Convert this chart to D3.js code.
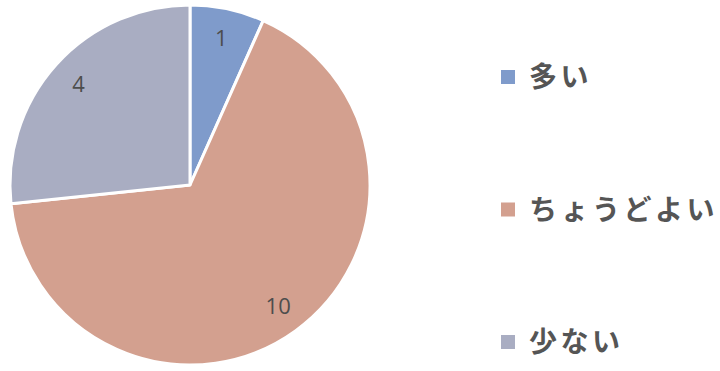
<!DOCTYPE html>
<html lang="ja">
<head>
<meta charset="UTF-8">
<title>Pie</title>
<style>
  html, body { margin: 0; padding: 0; background: #fff; }
  text { font-family: "Noto Sans CJK JP", "Noto Sans", sans-serif; }
</style>
</head>
<body>
<svg id="chart" width="720" height="371"></svg>
<script src="https://cdn.jsdelivr.net/npm/d3@7"></script>
<script>
var categories = ["多い", "ちょうどよい", "少ない"];
var values = [1, 10, 4];
var colors = ["#7f9bcb", "#d3a08f", "#a9adc2"];

var svg = d3.select("#chart");
var cx = 190, cy = 185, radius = 180;

var pie = d3.pie().sort(null).value(function (d) { return d; });
var arc = d3.arc().innerRadius(0).outerRadius(radius);
var labelArc = d3.arc().innerRadius(150).outerRadius(150);

var g = svg.append("g").attr("transform", "translate(" + cx + "," + cy + ")");

var slices = g.selectAll("g.slice")
    .data(pie(values))
    .enter().append("g")
    .attr("class", "slice");

slices.append("path")
    .attr("d", arc)
    .attr("fill", function (d, i) { return colors[i]; })
    .attr("stroke", "#fff")
    .attr("stroke-width", 3)
    .attr("stroke-linejoin", "round");

slices.append("text")
    .attr("transform", function (d) { return "translate(" + labelArc.centroid(d) + ")"; })
    .attr("text-anchor", "middle")
    .attr("dy", "0.35em")
    .style("font-family", "'Open Sans', 'Noto Sans', sans-serif")
    .style("font-size", "22px")
    .style("fill", "#4d4d4d")
    .text(function (d) { return d.data; });

// legend
var legendY = d3.scalePoint().domain(categories).range([77, 342]);

var legend = svg.append("g").selectAll("g")
    .data(categories)
    .enter().append("g")
    .attr("transform", function (d) { return "translate(501," + legendY(d) + ")"; });

legend.append("rect")
    .attr("x", 0)
    .attr("y", -7)
    .attr("width", 14)
    .attr("height", 14)
    .attr("fill", function (d, i) { return colors[i]; });

legend.append("text")
    .attr("x", 28)
    .attr("dy", "0.36em")
    .style("font-size", "28px")
    .style("font-weight", "bold")
    .style("letter-spacing", "3.5px")
    .style("fill", "#555")
    .text(function (d) { return d; });
</script>
</body>
</html>
